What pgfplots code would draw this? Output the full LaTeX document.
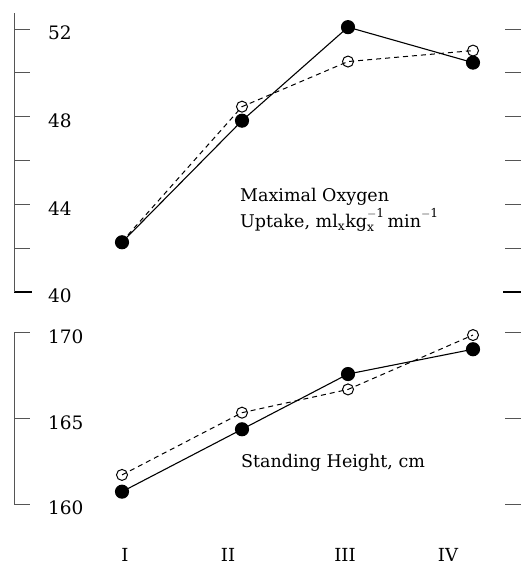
\documentclass[border=0pt]{standalone}
\usepackage{pgfplots}
\pgfplotsset{compat=1.18}
\usepackage{fontspec}
\setmainfont{DejaVu Serif}
\definecolor{axgray}{HTML}{555555}
\begin{document}
\fontsize{17.5}{21}\selectfont
\begin{tikzpicture}[x=1pt,y=1pt]
\path[use as bounding box] (0,0) rectangle (521,570);
\pgfplotsset{panel/.style={
  anchor=south west, scale only axis, width=507pt, xmin=14, xmax=521,
  axis line style={draw=none}, xtick=\empty, ytick pos=both, yticklabel pos=left,
  tick align=inside, major tick length=16pt,
  ytick style={axgray, line width=1pt},
  yticklabel style={anchor=west, xshift=28pt, yshift=-4pt, font=\fontsize{18.5}{21}\selectfont},
  /pgf/number format/assume math mode=true,
  clip=false,
  filled/.style={black, line width=1.1pt, mark=*, mark size=6.5pt, mark options={solid, fill=black}},
  open/.style={black, line width=1pt, dash pattern=on 5pt off 4pt, mark=o, mark size=5.5pt, mark options={solid, fill=white, line width=1pt}},
}}
\begin{axis}[panel, at={(14pt,278pt)}, height=279.3pt, ymin=40, ymax=52.75,
  ytick={42,44,...,52}, yticklabels={,44,,48,,52},
  extra y ticks={40}, extra y tick labels={40},
  extra y tick style={ytick style={black, line width=2pt}, major tick length=18pt}]
\addplot[open] coordinates {(122,42.3) (242,48.46) (348,50.52) (473,51.02)};
\addplot[filled] coordinates {(122,42.27) (242,47.82) (348,52.09) (473,50.47)};
\draw[axgray, line width=1pt] (rel axis cs:0,0) -- (rel axis cs:0,1);
\end{axis}
\begin{axis}[panel, at={(14pt,66pt)}, height=171pt, ymin=160, ymax=170,
  ytick={160,165,170},
  xtick={125,228,345,448}, xticklabels={I,II,III,IV}, xtick style={draw=none},
  xticklabel style={yshift=-38pt, font=\fontsize{18}{21}\selectfont}]
\addplot[open] coordinates {(122,161.7) (242,165.34) (348,166.7) (473,169.88)};
\addplot[filled] coordinates {(122,160.72) (242,164.37) (348,167.6) (473,169.05)};
\draw[axgray, line width=1pt] (rel axis cs:0,0) -- (rel axis cs:0,1);
\end{axis}
\node[anchor=north west, inner sep=0pt, align=left, font=\fontsize{17.5}{26}\selectfont] at (240,382) {Maximal Oxygen\\Uptake, $\mathrm{ml}_{\mathrm{x}}\mathrm{kg}_{\mathrm{x}}^{\mathrm{-1}}\,\mathrm{min}^{\mathrm{-1}}$};
\node[anchor=base west, inner sep=0pt] at (241,102) {Standing Height, cm};
\end{tikzpicture}
\end{document}
